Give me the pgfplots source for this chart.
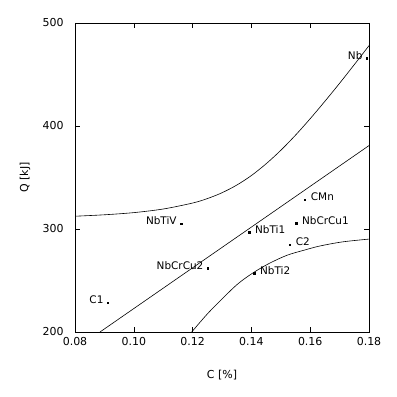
\documentclass[border=0pt]{standalone}
\usepackage{fontspec}
\setmainfont{DejaVu Sans}
\usepackage{pgfplots}
\pgfplotsset{compat=1.18}
\begin{document}
\begin{tikzpicture}[x=1bp,y=1bp]
\path[use as bounding box] (0,0) rectangle (397,397);
\begin{axis}[
  at={(75bp,65bp)}, anchor=south west,
  width=294bp, height=309bp, scale only axis,
  xmin=0.08, xmax=0.18, ymin=200, ymax=500,
  xtick={0.08,0.1,0.12,0.14,0.16,0.18},
  xticklabels={0.08,0.10,0.12,0.14,0.16,0.18},
  ytick={200,300,400,500},
  tick align=inside, major tick length=5bp,
  tick style={black, line width=0.6pt},
  axis line style={line width=0.75pt},
  ticklabel style={font=\fontsize{11}{13}\selectfont},
  xticklabel style={yshift=-2bp},
  yticklabel style={xshift=-8bp},
  /pgf/number format/assume math mode=true,
  xlabel={C [\%]}, ylabel={Q [kJ]},
  label style={font=\fontsize{11}{13}\selectfont},
  xlabel style={at={(axis description cs:0.5,0)}, anchor=center, yshift=-43bp},
  ylabel style={at={(axis description cs:-0.17,0.5)}, anchor=center},
  clip=true,
]
% upper confidence curve
\addplot[black, line width=0.6pt, smooth, no marks] coordinates {
(0.080,312.4) (0.090,313.8) (0.100,315.9) (0.110,319.4) (0.120,325.2)
(0.125,329.5) (0.130,335.2) (0.135,342.6) (0.140,351.9) (0.145,363.3)
(0.150,376.4) (0.155,391.1) (0.160,407.1) (0.165,424.0) (0.170,441.5)
(0.175,459.6) (0.180,478.0)
};
% regression line
\addplot[black, line width=0.6pt, no marks] coordinates {
(0.0885,200) (0.18,381)
};
% lower confidence curve
\addplot[black, line width=0.6pt, smooth, no marks] coordinates {
(0.1197,200) (0.1250,217.5) (0.1305,233.5) (0.1355,247) (0.1406,257.5) (0.1460,266.5)
(0.1521,274.5) (0.1580,279.5) (0.1633,283.5) (0.1710,287.5) (0.1800,290.2)
};
% points labelled on the right
\addplot[only marks, mark=square*, mark size=0.7bp, black,
  point meta=explicit symbolic, nodes near coords,
  nodes near coords style={anchor=base west, xshift=2.5bp, yshift=-1bp, font=\fontsize{10.5}{12}\selectfont}]
  table[meta=label] {
x y label
0.1582 328.2 CMn
0.1552 305.8 NbCrCu1
0.1392 297.0 NbTi1
0.1531 284.5 C2
0.1409 257.0 NbTi2
};
% points labelled on the left
\addplot[only marks, mark=square*, mark size=0.7bp, black,
  point meta=explicit symbolic, nodes near coords,
  nodes near coords style={anchor=base east, xshift=-1bp, yshift=-1bp, font=\fontsize{10.5}{12}\selectfont}]
  table[meta=label] {
x y label
0.1793 466.0 Nb
0.1161 305.0 NbTiV
0.1252 262.1 NbCrCu2
0.0912 228.7 C1
};
\end{axis}
\end{tikzpicture}
\end{document}
